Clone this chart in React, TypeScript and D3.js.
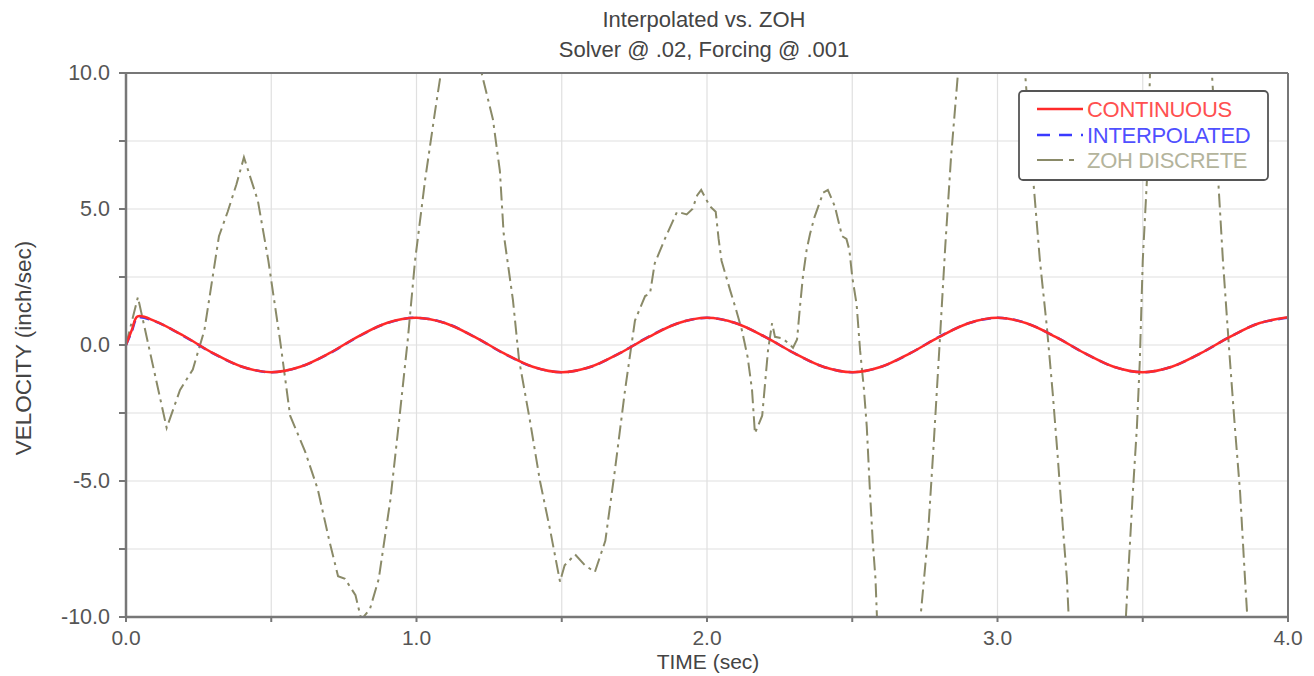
import React from "react";
import * as d3 from "d3";

const W = 1314;
const H = 676;
const M = { left: 126, right: 1288, top: 73, bottom: 617 };

const titleLines = ["Interpolated vs. ZOH", "Solver @ .02, Forcing @ .001"];
const xLabel = "TIME (sec)";
const yLabel = "VELOCITY (inch/sec)";
const xTicksMajor = [0, 1, 2, 3, 4];
const xTicksMinor = [0, 0.5, 1, 1.5, 2, 2.5, 3, 3.5, 4];
const yTicksMajor = [-10, -5, 0, 5, 10];
const yTicksMinor = [-10, -7.5, -5, -2.5, 0, 2.5, 5, 7.5, 10];

const contT = [0, 0.02, 0.04, 0.1, 0.2, 0.3, 0.4, 0.5, 0.6, 0.7, 0.8, 0.9, 1.0, 1.1, 1.2, 1.3, 1.4, 1.5, 1.6, 1.7, 1.8, 1.9, 2.0, 2.1, 2.2, 2.3, 2.4, 2.5, 2.6, 2.7, 2.8, 2.9, 3.0, 3.1, 3.2, 3.3, 3.4, 3.5, 3.6, 3.7, 3.8, 3.9, 4.0];
const contV = [0, 0.55, 1.05, 0.88, 0.33, -0.3, -0.8, -1.0, -0.8, -0.3, 0.32, 0.82, 1.0, 0.8, 0.3, -0.3, -0.8, -1.0, -0.8, -0.3, 0.3, 0.8, 1.0, 0.8, 0.3, -0.3, -0.8, -1.0, -0.8, -0.3, 0.3, 0.8, 1.0, 0.8, 0.3, -0.3, -0.8, -1.0, -0.8, -0.3, 0.3, 0.8, 1.02];
const interpV = [0, 0.5, 1.0, 0.87, 0.32, -0.31, -0.8, -1.0, -0.8, -0.31, 0.31, 0.81, 1.0, 0.8, 0.3, -0.31, -0.8, -1.0, -0.8, -0.3, 0.31, 0.8, 1.0, 0.8, 0.3, -0.3, -0.8, -1.0, -0.8, -0.3, 0.31, 0.8, 1.0, 0.8, 0.3, -0.3, -0.8, -1.0, -0.8, -0.3, 0.3, 0.8, 1.0];

const zohT = [0, 0.041, 0.14, 0.186, 0.23, 0.27, 0.32, 0.35, 0.38, 0.406, 0.43, 0.454, 0.49, 0.53, 0.565, 0.616, 0.66, 0.70, 0.73, 0.754, 0.79, 0.81, 0.84, 0.87, 0.91, 0.94, 0.97, 0.995, 1.03, 1.064, 1.084, 1.12, 1.16, 1.2, 1.224, 1.263, 1.287, 1.30, 1.332, 1.353, 1.39, 1.425, 1.46, 1.494, 1.51, 1.546, 1.58, 1.614, 1.65, 1.683, 1.718, 1.752, 1.787, 1.804, 1.82, 1.855, 1.897, 1.93, 1.95, 1.966, 1.98, 2.01, 2.03, 2.04, 2.05, 2.08, 2.10, 2.12, 2.14, 2.155, 2.165, 2.19, 2.2, 2.21, 2.224, 2.234, 2.258, 2.28, 2.296, 2.31, 2.32, 2.33, 2.343, 2.355, 2.37, 2.39, 2.40, 2.416, 2.44, 2.465, 2.48, 2.49, 2.50, 2.515, 2.527, 2.54, 2.55, 2.561, 2.571, 2.58, 2.585, 2.62, 2.66, 2.70, 2.735, 2.76, 2.78, 2.80, 2.82, 2.84, 2.864, 2.90, 2.95, 3.0, 3.05, 3.095, 3.122, 3.146, 3.17, 3.19, 3.208, 3.225, 3.239, 3.245, 3.30, 3.35, 3.40, 3.442, 3.449, 3.466, 3.48, 3.49, 3.50, 3.515, 3.525, 3.56, 3.63, 3.70, 3.738, 3.759, 3.776, 3.80, 3.817, 3.835, 3.852, 3.86, 3.9, 3.95, 4.0];
const zohV = [0, 1.76, -3.05, -1.65, -0.9, 0.55, 4.0, 4.9, 5.9, 6.9, 6.1, 5.3, 3.1, 0.2, -2.6, -3.9, -5.3, -7.2, -8.5, -8.6, -9.2, -10.1, -9.7, -8.6, -5.7, -2.8, 0.2, 3.1, 6.1, 8.6, 10.0, 11.4, 11.8, 11.0, 10.0, 8.3, 6.4, 4.1, 1.65, -0.55, -2.75, -5.0, -6.8, -8.7, -8.1, -7.7, -8.1, -8.35, -7.2, -4.6, -1.65, 0.9, 1.8, 1.9, 3.0, 3.9, 4.9, 4.8, 5.0, 5.5, 5.7, 5.1, 4.9, 3.9, 3.1, 2.0, 1.3, 0.55, -0.45, -1.65, -3.25, -2.6, -1.4, -0.2, 0.8, 0.3, 0.25, 0.07, -0.1, 0.2, 1.4, 2.5, 3.5, 4.1, 4.7, 5.3, 5.6, 5.7, 5.1, 4.0, 3.9, 3.5, 2.5, 1.5, -0.2, -1.6, -3.0, -5.4, -7.3, -8.6, -10, -14, -15, -13, -10, -7.1, -3.7, -0.1, 3.6, 6.9, 10, 14, 16, 16, 14, 10, 6.2, 3.1, 0.66, -1.76, -4.2, -6.7, -8.6, -10, -15, -17, -15, -10, -8.6, -5.4, -3.0, -0.55, 3.1, 6.2, 10, 15, 18, 15, 10, 6.2, 3.1, -0.55, -3.0, -5.4, -8.6, -10, -15, -18, -18];

const seriesNames = ["CONTINUOUS", "INTERPOLATED", "ZOH DISCRETE"];
const seriesColors = ["#ff2a2a", "#3a3aff", "#8a8a68"];
const legendTextColors = ["#ff5050", "#5050ff", "#b4b49c"];

const FONT = "'Liberation Sans', Arial, sans-serif";

export default function App() {
  const x = d3.scaleLinear().domain([0, 4]).range([M.left, M.right]);
  const y = d3.scaleLinear().domain([-10, 10]).range([M.bottom, M.top]);

  const line = d3
    .line<[number, number]>()
    .x((d) => x(d[0]))
    .y((d) => y(d[1]));
  const smooth = d3
    .line<[number, number]>()
    .x((d) => x(d[0]))
    .y((d) => y(d[1]))
    .curve(d3.curveCatmullRom.alpha(0.5));

  const contData = contT.map((t, i) => [t, contV[i]] as [number, number]);
  const interpData = contT.map((t, i) => [t, interpV[i]] as [number, number]);
  const zohData = zohT.map((t, i) => [t, zohV[i]] as [number, number]);

  const gridX = d3.range(0, 4.0001, 0.5);
  const gridY = d3.range(-10, 10.0001, 2.5);

  const lg = { x: 1019, y: 91, w: 249, h: 89 };
  const rowY = [109, 135, 160];

  return (
    <svg
      width={W}
      height={H}
      style={{ position: "absolute", left: 0, top: 0, background: "#fff" }}
      fontFamily={FONT}
    >
      <defs>
        <clipPath id="plotClip">
          <rect x={M.left} y={M.top} width={M.right - M.left} height={M.bottom - M.top} />
        </clipPath>
      </defs>

      {/* grid */}
      {gridX.map((g) => (
        <line key={"gx" + g} x1={x(g)} x2={x(g)} y1={M.top} y2={M.bottom} stroke="#e0e0e0" strokeWidth={1.2} />
      ))}
      {gridY.map((g) => (
        <line key={"gy" + g} x1={M.left} x2={M.right} y1={y(g)} y2={y(g)} stroke="#e0e0e0" strokeWidth={1.2} />
      ))}

      {/* series */}
      <g clipPath="url(#plotClip)">
        <path d={line(zohData) || ""} fill="none" stroke={seriesColors[2]} strokeWidth={2} strokeDasharray="14,5,3,5" />
        <path d={smooth(interpData) || ""} fill="none" stroke={seriesColors[1]} strokeWidth={2.5} strokeDasharray="10,6" />
        <path d={smooth(contData) || ""} fill="none" stroke={seriesColors[0]} strokeWidth={2.5} />
      </g>

      {/* frame */}
      <line x1={M.left} x2={M.right} y1={M.top} y2={M.top} stroke="#777" strokeWidth={2} />
      <line x1={M.right} x2={M.right} y1={M.top} y2={M.bottom} stroke="#777" strokeWidth={2} />
      <line x1={M.left} x2={M.left} y1={M.top} y2={M.bottom} stroke="#777" strokeWidth={2.5} />
      <line x1={M.left} x2={M.right} y1={M.bottom} y2={M.bottom} stroke="#777" strokeWidth={2.5} />

      {/* ticks */}
      {yTicksMinor.map((t) => (
        <line key={"yt" + t} x1={M.left - 7} x2={M.left} y1={y(t)} y2={y(t)} stroke="#777" strokeWidth={2} />
      ))}
      {xTicksMinor.map((t) => (
        <line key={"xt" + t} x1={x(t)} x2={x(t)} y1={M.bottom} y2={M.bottom + 5} stroke="#777" strokeWidth={2} />
      ))}
      {yTicksMajor.map((t) => (
        <text key={"yl" + t} x={110} y={y(t) + 7} textAnchor="end" fontSize={21.5} fill="#555">
          {t.toFixed(1)}
        </text>
      ))}
      {xTicksMajor.map((t) => (
        <text key={"xl" + t} x={x(t)} y={645} textAnchor="middle" fontSize={21} fill="#555">
          {t.toFixed(1)}
        </text>
      ))}

      {/* titles */}
      <text x={704} y={27} textAnchor="middle" fontSize={22} fill="#444">
        {titleLines[0]}
      </text>
      <text x={704} y={57} textAnchor="middle" fontSize={22} fill="#444">
        {titleLines[1]}
      </text>
      <text x={708} y={669} textAnchor="middle" fontSize={21} fill="#444">
        {xLabel}
      </text>
      <text transform={`translate(31,348) rotate(-90)`} textAnchor="middle" fontSize={22.5} fill="#444">
        {yLabel}
      </text>

      {/* legend */}
      <rect x={lg.x} y={lg.y} width={lg.w} height={lg.h} rx={4} fill="#fff" stroke="#555" strokeWidth={1.8} />
      <line x1={1037} x2={1083} y1={rowY[0]} y2={rowY[0]} stroke={seriesColors[0]} strokeWidth={2.5} />
      <line x1={1037} x2={1083} y1={rowY[1]} y2={rowY[1]} stroke={seriesColors[1]} strokeWidth={2.5} strokeDasharray="13,9" />
      <line x1={1037} x2={1078} y1={rowY[2]} y2={rowY[2]} stroke={seriesColors[2]} strokeWidth={2} strokeDasharray="26,6,5,6" />
      {seriesNames.map((n, i) => (
        <text key={n} x={1087} y={rowY[i] + 8} fontSize={22} fill={legendTextColors[i]} letterSpacing={-0.3}>
          {n}
        </text>
      ))}
    </svg>
  );
}
